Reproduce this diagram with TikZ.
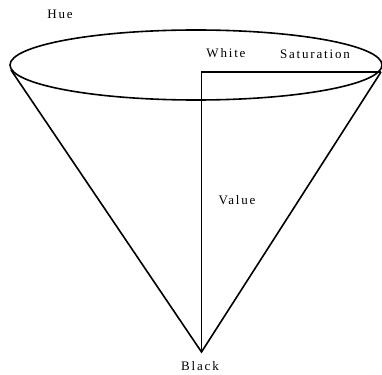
\documentclass[tikz,border=0pt]{standalone}
\usepackage{fontspec}
\setmainfont[LetterSpace=14]{Liberation Serif}
\usetikzlibrary{shapes.geometric}
\begin{document}
\begin{tikzpicture}[x=1pt,y=-1pt,line width=1.6pt,
  lbl/.style={font=\fontsize{13}{15}\selectfont,inner sep=0pt}]
\useasboundingbox (0,0) rectangle (382,374);
\coordinate (c) at (196,65);
\node[draw,ellipse,minimum width=372,minimum height=70,inner sep=0pt] (top) at (c) {};
\coordinate (lt) at (11,70);
\coordinate (rt) at (381,72);
\coordinate (apex) at (201.5,352);
\coordinate (w) at (201.5,72);
\draw (lt) -- (apex) -- (rt);
\draw (apex) -- (w) -- (rt);
\node[lbl] (hue) at (60,14) {Hue};
\node[lbl] (white) at (226,53) {White};
\node[lbl] (sat) at (315,54) {Saturation};
\node[lbl] (val) at (237,200) {Value};
\node[lbl] (black) at (200,366) {Black};
\end{tikzpicture}
\end{document}
